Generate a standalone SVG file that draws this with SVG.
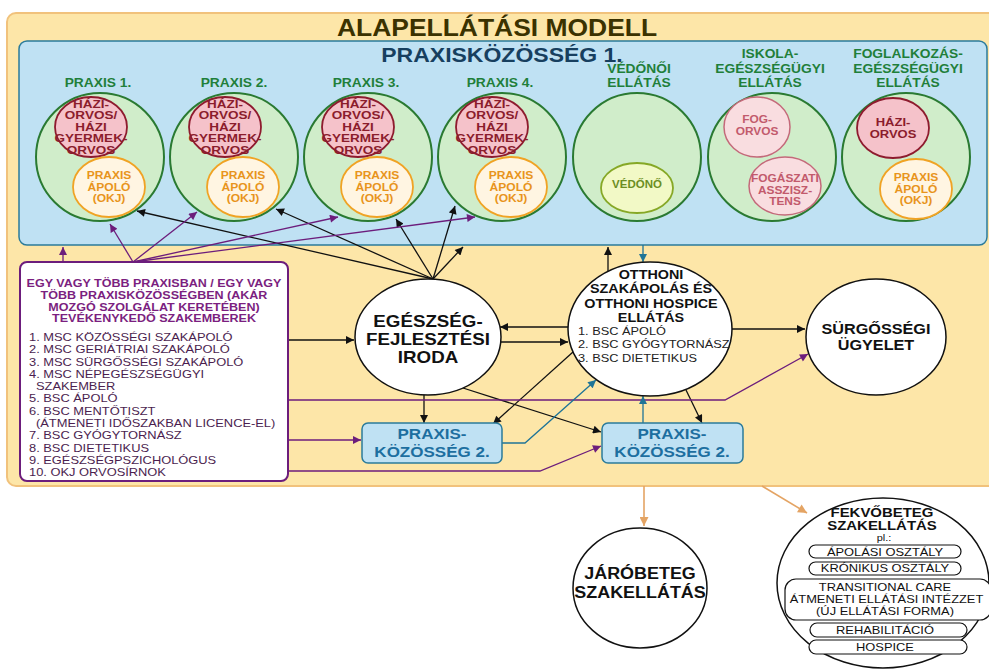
<svg xmlns="http://www.w3.org/2000/svg" width="989" height="672" viewBox="0 0 989 672">
<style>
text{font-family:"Liberation Sans",Arial,Helvetica,sans-serif;text-anchor:middle}
.b{font-weight:bold}
.st{text-anchor:start}
.gc{fill:#d0edca;stroke:#2a7a32;stroke-width:2}
.rc{fill:#f5c2ca;stroke:#8e1b2e;stroke-width:1.8}
.oc{fill:#fff5e2;stroke:#f0a324;stroke-width:1.8}
.pc{fill:#f9dde0;stroke:#c4697a;stroke-width:1.5}
.vc{fill:#f2f9c6;stroke:#86a826;stroke-width:1.8}
.hd{font-size:12px;font-weight:bold;fill:#1f7f3a}
.rt{font-size:10.4px;font-weight:bold;fill:#8b1c2c}
.ot{font-size:10.2px;font-weight:bold;fill:#e8941c}
.pt{font-size:10px;font-weight:bold;fill:#c25a6c}
.wn{fill:#fff;stroke:#111;stroke-width:1.5}
.pk{fill:#bfe1f3;stroke:#2b7b9b;stroke-width:1.5}
.pkt{font-size:14.8px;font-weight:bold;fill:#1d6fa0}
.pill{fill:#fff;stroke:#111;stroke-width:1.2}
.ct{fill:none;stroke-width:1.3}
.k{stroke:#111}
.p{stroke:#6c1d7c}
.t{stroke:#1f7497}
.o{stroke:#e4a464;stroke-width:1.6}
</style>
<defs>
<marker id="ak" viewBox="0 0 10 10" refX="10" refY="5" markerWidth="9" markerHeight="8" markerUnits="userSpaceOnUse" orient="auto"><path d="M0,0 L10,5 L0,10 z" fill="#111"/></marker>
<marker id="ap" viewBox="0 0 10 10" refX="10" refY="5" markerWidth="9" markerHeight="8" markerUnits="userSpaceOnUse" orient="auto"><path d="M0,0 L10,5 L0,10 z" fill="#6c1d7c"/></marker>
<marker id="at" viewBox="0 0 10 10" refX="10" refY="5" markerWidth="9" markerHeight="8" markerUnits="userSpaceOnUse" orient="auto"><path d="M0,0 L10,5 L0,10 z" fill="#1f7497"/></marker>
<marker id="ao" viewBox="0 0 10 10" refX="10" refY="5" markerWidth="10" markerHeight="9" markerUnits="userSpaceOnUse" orient="auto"><path d="M0,0 L10,5 L0,10 z" fill="#e4a464"/></marker>
</defs>
<rect width="989" height="672" fill="#fff"/>

<g id="alapellatas">
<rect x="7" y="13" width="995" height="473" rx="9" fill="#fde6a8" stroke="#f1c27c" stroke-width="2"/>
<text class="b" transform="translate(497 0) scale(1.15 1)" font-size="23" fill="#3b3200"><tspan x="0" y="36">ALAPELLÁTÁSI MODELL</tspan></text>
</g>

<g id="praxiskozosseg1">
<rect x="19" y="41" width="968" height="204" rx="8" fill="#bfe1f3" stroke="#2b7b9b" stroke-width="1.5"/>
<text class="b" transform="translate(502 0) scale(1.15 1)" font-size="20" fill="#173f5f"><tspan x="0" y="62">PRAXISKÖZÖSSÉG 1.</tspan></text>
</g>

<g id="praxis1">
<text class="hd" transform="translate(98 0) scale(1.15 1)"><tspan x="0" y="86.7">PRAXIS 1.</tspan></text>
<circle class="gc" cx="100" cy="157" r="64"/>
<ellipse class="rc" cx="91" cy="127" rx="36" ry="30"/>
<ellipse class="oc" cx="109" cy="187" rx="36" ry="30"/>
<text class="rt" transform="translate(91 0) scale(1.3 1)"><tspan x="0" y="107.7">HÁZI-</tspan><tspan x="0" y="119.2">ORVOS/</tspan><tspan x="0" y="130.7">HÁZI</tspan><tspan x="0" y="142.2">GYERMEK-</tspan><tspan x="0" y="153.7">ORVOS</tspan></text>
<text class="ot" transform="translate(109 0) scale(1.18 1)"><tspan x="0" y="179.4">PRAXIS</tspan><tspan x="0" y="190.9">ÁPOLÓ</tspan><tspan x="0" y="202.4">(OKJ)</tspan></text>
</g>

<g id="praxis2">
<text class="hd" transform="translate(234 0) scale(1.15 1)"><tspan x="0" y="86.7">PRAXIS 2.</tspan></text>
<circle class="gc" cx="234" cy="157" r="64"/>
<ellipse class="rc" cx="225" cy="127" rx="36" ry="30"/>
<ellipse class="oc" cx="243" cy="187" rx="36" ry="30"/>
<text class="rt" transform="translate(225 0) scale(1.3 1)"><tspan x="0" y="107.7">HÁZI-</tspan><tspan x="0" y="119.2">ORVOS/</tspan><tspan x="0" y="130.7">HÁZI</tspan><tspan x="0" y="142.2">GYERMEK-</tspan><tspan x="0" y="153.7">ORVOS</tspan></text>
<text class="ot" transform="translate(243 0) scale(1.18 1)"><tspan x="0" y="179.4">PRAXIS</tspan><tspan x="0" y="190.9">ÁPOLÓ</tspan><tspan x="0" y="202.4">(OKJ)</tspan></text>
</g>

<g id="praxis3">
<text class="hd" transform="translate(366 0) scale(1.15 1)"><tspan x="0" y="86.7">PRAXIS 3.</tspan></text>
<circle class="gc" cx="368" cy="157" r="64"/>
<ellipse class="rc" cx="358" cy="127" rx="36" ry="30"/>
<ellipse class="oc" cx="377" cy="187" rx="36" ry="30"/>
<text class="rt" transform="translate(358 0) scale(1.3 1)"><tspan x="0" y="107.7">HÁZI-</tspan><tspan x="0" y="119.2">ORVOS/</tspan><tspan x="0" y="130.7">HÁZI</tspan><tspan x="0" y="142.2">GYERMEK-</tspan><tspan x="0" y="153.7">ORVOS</tspan></text>
<text class="ot" transform="translate(377 0) scale(1.18 1)"><tspan x="0" y="179.4">PRAXIS</tspan><tspan x="0" y="190.9">ÁPOLÓ</tspan><tspan x="0" y="202.4">(OKJ)</tspan></text>
</g>

<g id="praxis4">
<text class="hd" transform="translate(500 0) scale(1.15 1)"><tspan x="0" y="86.7">PRAXIS 4.</tspan></text>
<circle class="gc" cx="502" cy="157" r="64"/>
<ellipse class="rc" cx="492" cy="127" rx="36" ry="30"/>
<ellipse class="oc" cx="511" cy="187" rx="36" ry="30"/>
<text class="rt" transform="translate(492 0) scale(1.3 1)"><tspan x="0" y="107.7">HÁZI-</tspan><tspan x="0" y="119.2">ORVOS/</tspan><tspan x="0" y="130.7">HÁZI</tspan><tspan x="0" y="142.2">GYERMEK-</tspan><tspan x="0" y="153.7">ORVOS</tspan></text>
<text class="ot" transform="translate(511 0) scale(1.18 1)"><tspan x="0" y="179.4">PRAXIS</tspan><tspan x="0" y="190.9">ÁPOLÓ</tspan><tspan x="0" y="202.4">(OKJ)</tspan></text>
</g>

<g id="vedonoi">
<text class="hd" transform="translate(639 0) scale(1.15 1)"><tspan x="0" y="73.5">VÉDŐNŐI</tspan><tspan x="0" y="86.7">ELLÁTÁS</tspan></text>
<circle class="gc" cx="637" cy="157" r="64"/>
<ellipse class="vc" cx="637" cy="188" rx="36" ry="25"/>
<text transform="translate(637 0) scale(1.15 1)" font-size="10" font-weight="bold" fill="#6b8e23"><tspan x="0" y="187.8">VÉDŐNŐ</tspan></text>
</g>

<g id="iskola">
<text class="hd" transform="translate(770 0) scale(1.15 1)"><tspan x="0" y="58.5">ISKOLA-</tspan><tspan x="0" y="73.5">EGÉSZSÉGÜGYI</tspan><tspan x="0" y="86.7">ELLÁTÁS</tspan></text>
<circle class="gc" cx="772" cy="157" r="64"/>
<ellipse class="pc" cx="757" cy="127" rx="33" ry="30"/>
<ellipse class="pc" cx="785" cy="186" rx="36" ry="29"/>
<text class="pt" transform="translate(757 0) scale(1.19 1)"><tspan x="0" y="123.3">FOG-</tspan><tspan x="0" y="135">ORVOS</tspan></text>
<text class="pt" transform="translate(785 0) scale(1.19 1)"><tspan x="0" y="182.5">FOGÁSZATI</tspan><tspan x="0" y="194">ASSZISZ-</tspan><tspan x="0" y="205.5">TENS</tspan></text>
</g>

<g id="foglalkozas">
<text class="hd" transform="translate(908 0) scale(1.15 1)"><tspan x="0" y="58.5">FOGLALKOZÁS-</tspan><tspan x="0" y="73.5">EGÉSZSÉGÜGYI</tspan><tspan x="0" y="86.7">ELLÁTÁS</tspan></text>
<circle class="gc" cx="906" cy="157" r="64"/>
<ellipse class="rc" cx="893" cy="128" rx="36" ry="30"/>
<ellipse class="oc" cx="916" cy="189" rx="36" ry="30"/>
<text class="rt" transform="translate(893 0) scale(1.25 1)" font-size="10.5"><tspan x="0" y="126.3">HÁZI-</tspan><tspan x="0" y="138.3">ORVOS</tspan></text>
<text class="ot" transform="translate(916 0) scale(1.18 1)"><tspan x="0" y="181.4">PRAXIS</tspan><tspan x="0" y="192.9">ÁPOLÓ</tspan><tspan x="0" y="204.4">(OKJ)</tspan></text>
</g>

<g id="connectors">
<path class="ct k" d="M433,279 L137,211" marker-end="url(#ak)"/>
<path class="ct k" d="M433,279 L276,209" marker-end="url(#ak)"/>
<path class="ct k" d="M433,279 L396,219" marker-end="url(#ak)"/>
<path class="ct k" d="M433,279 L455,206" marker-end="url(#ak)"/>
<path class="ct k" d="M433,279 L463,247" marker-end="url(#ak)"/>
<path class="ct k" d="M288,340 L354,340" marker-end="url(#ak)"/>
<path class="ct k" d="M568,327 L500,327" marker-end="url(#ak)"/>
<path class="ct k" d="M501,342 L568,342" marker-end="url(#ak)"/>
<path class="ct k" d="M608,271 L608,247" marker-end="url(#ak)"/>
<path class="ct k" d="M732,329 L805,329" marker-end="url(#ak)"/>
<path class="ct k" d="M424,395 L424,423" marker-end="url(#ak)"/>
<path class="ct k" d="M463,388 L601,432" marker-end="url(#ak)"/>
<path class="ct k" d="M573,352 L493,424" marker-end="url(#ak)"/>
<path class="ct k" d="M686,390 L702,423" marker-end="url(#ak)"/>
<path class="ct p" d="M133,262 L110,224" marker-end="url(#ap)"/>
<path class="ct p" d="M133,262 L197,212" marker-end="url(#ap)"/>
<path class="ct p" d="M133,262 L338,217" marker-end="url(#ap)"/>
<path class="ct p" d="M133,262 L475,217" marker-end="url(#ap)"/>
<path class="ct p" d="M63,262 L63,247" marker-end="url(#ap)"/>
<path class="ct p" d="M288,400 L725,400 L808,354" marker-end="url(#ap)"/>
<path class="ct p" d="M288,440 L361,440" marker-end="url(#ap)"/>
<path class="ct p" d="M288,471 L540,471 L601,446" marker-end="url(#ap)"/>
<path class="ct t" d="M643,245 L643,262" marker-end="url(#at)"/>
<path class="ct t" d="M502,443 L525,443 L596,380" marker-end="url(#at)"/>
<path class="ct t" d="M643,423 L643,396" marker-end="url(#at)"/>
<path class="ct o" d="M644,486 L644,526" marker-end="url(#ao)"/>
<path class="ct o" d="M762,486 L807,513" marker-end="url(#ao)"/>
</g>

<g id="szakemberek">
<rect x="20" y="262" width="268" height="219" rx="7" fill="#fff" stroke="#6c1d7c" stroke-width="2"/>
<text class="b" transform="translate(154 0) scale(1.15 1)" font-size="10.9" fill="#7b1f80"><tspan x="0" y="287">EGY VAGY TÖBB PRAXISBAN / EGY VAGY</tspan><tspan x="0" y="298.8">TÖBB PRAXISKÖZÖSSÉGBEN (AKÁR</tspan><tspan x="0" y="310.6">MOZGÓ SZOLGÁLAT KERETÉBEN)</tspan><tspan x="0" y="322.4">TEVÉKENYKEDŐ SZAKEMBEREK</tspan></text>
<text class="st" transform="translate(29 0) scale(1.15 1)" font-size="11.2" fill="#4b1e4f"><tspan x="0" y="341">1. MSC KÖZÖSSÉGI SZAKÁPOLÓ</tspan><tspan x="0" y="353.3">2. MSC GERIÁTRIAI SZAKÁPOLÓ</tspan><tspan x="0" y="365.6">3. MSC SÜRGŐSSÉGI SZAKÁPOLÓ</tspan><tspan x="0" y="377.9">4. MSC NÉPEGÉSZSÉGÜGYI</tspan><tspan x="6.1" y="390.2">SZAKEMBER</tspan><tspan x="0" y="402.5">5. BSC ÁPOLÓ</tspan><tspan x="0" y="414.8">6. BSC MENTŐTISZT</tspan><tspan x="6.1" y="427.1">(ÁTMENETI IDŐSZAKBAN LICENCE-EL)</tspan><tspan x="0" y="439.4">7. BSC GYÓGYTORNÁSZ</tspan><tspan x="0" y="451.7">8. BSC DIETETIKUS</tspan><tspan x="0" y="464">9. EGÉSZSÉGPSZICHOLÓGUS</tspan><tspan x="0" y="476.3">10. OKJ ORVOSÍRNOK</tspan></text>
</g>

<g id="iroda">
<ellipse class="wn" cx="428" cy="337" rx="73" ry="58"/>
<text class="b" transform="translate(428 0) scale(1.15 1)" font-size="16.3" fill="#111"><tspan x="0" y="327">EGÉSZSÉG-</tspan><tspan x="0" y="345">FEJLESZTÉSI</tspan><tspan x="0" y="363">IRODA</tspan></text>
</g>

<g id="otthoni">
<ellipse class="wn" cx="650" cy="329" rx="82" ry="67"/>
<text class="b" transform="translate(651 0) scale(1.15 1)" font-size="12.5" fill="#111"><tspan x="0" y="279">OTTHONI</tspan><tspan x="0" y="293.5">SZAKÁPOLÁS ÉS</tspan><tspan x="0" y="308">OTTHONI HOSPICE</tspan><tspan x="0" y="322">ELLÁTÁS</tspan></text>
<text class="st" transform="translate(578 0) scale(1.15 1)" font-size="11.1" fill="#222"><tspan x="0" y="335">1. BSC ÁPOLÓ</tspan><tspan x="0" y="348.5">2. BSC GYÓGYTORNÁSZ</tspan><tspan x="0" y="362">3. BSC DIETETIKUS</tspan></text>
</g>

<g id="surgossegi">
<ellipse class="wn" cx="876" cy="337" rx="70" ry="58"/>
<text class="b" transform="translate(876 0) scale(1.15 1)" font-size="14.1" fill="#111"><tspan x="0" y="334">SÜRGŐSSÉGI</tspan><tspan x="0" y="350">ÜGYELET</tspan></text>
</g>

<g id="pk2-bal">
<rect class="pk" x="362" y="423" width="140" height="40" rx="6"/>
<text class="pkt" transform="translate(432 0) scale(1.15 1)"><tspan x="0" y="439.5">PRAXIS-</tspan><tspan x="0" y="457">KÖZÖSSÉG 2.</tspan></text>
</g>

<g id="pk2-jobb">
<rect class="pk" x="602" y="423" width="141" height="40" rx="6"/>
<text class="pkt" transform="translate(672 0) scale(1.15 1)"><tspan x="0" y="439.5">PRAXIS-</tspan><tspan x="0" y="457">KÖZÖSSÉG 2.</tspan></text>
</g>

<g id="jarobeteg">
<ellipse class="wn" cx="640" cy="588" rx="67" ry="60"/>
<text class="b" transform="translate(640 0) scale(1.15 1)" font-size="15.6" fill="#111"><tspan x="0" y="579.5">JÁRÓBETEG</tspan><tspan x="0" y="598.5">SZAKELLÁTÁS</tspan></text>
</g>

<g id="fekvobeteg">
<ellipse class="wn" cx="883" cy="583" rx="106" ry="85"/>
<text class="b" transform="translate(882 0) scale(1.15 1)" font-size="13" fill="#111"><tspan x="0" y="517">FEKVŐBETEG</tspan><tspan x="0" y="530.5">SZAKELLÁTÁS</tspan></text>
<text transform="translate(884 0) scale(1.15 1)" font-size="9.5" fill="#111"><tspan x="0" y="541.5">pl.:</tspan></text>
<rect class="pill" x="809" y="545" width="152" height="13" rx="6.5"/>
<rect class="pill" x="809" y="562" width="152" height="13" rx="6.5"/>
<rect class="pill" x="785" y="579" width="206" height="41" rx="11"/>
<rect class="pill" x="810" y="623" width="157" height="14" rx="7"/>
<rect class="pill" x="809" y="640" width="158" height="14" rx="7"/>
<text transform="translate(885 0) scale(1.15 1)" font-size="11.2" fill="#111"><tspan x="0" y="556">ÁPOLÁSI OSZTÁLY</tspan><tspan x="0" y="572.5">KRÓNIKUS OSZTÁLY</tspan><tspan x="0" y="591">TRANSITIONAL CARE</tspan><tspan x="1.3" y="603">ÁTMENETI ELLÁTÁSI INTÉZZET</tspan><tspan x="0" y="615">(ÚJ ELLÁTÁSI FORMA)</tspan><tspan x="0" y="634.5">REHABILITÁCIÓ</tspan><tspan x="0" y="651.5">HOSPICE</tspan></text>
</g>
</svg>
